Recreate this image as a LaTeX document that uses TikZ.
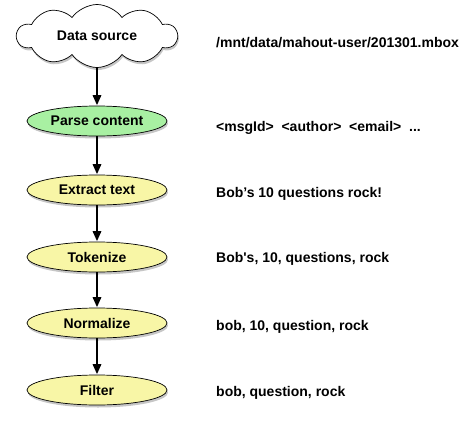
\documentclass[tikz,border=0pt]{standalone}
\usepackage{fontspec}
\setmainfont{Liberation Sans}
\newfontfamily\rawsans[Ligatures=TeXOff]{Liberation Sans}
\usetikzlibrary{shapes.symbols,shapes.geometric,shadows,arrows.meta}
\definecolor{stepyellow}{HTML}{F8F6A6}
\definecolor{stepgreen}{HTML}{A8F0A2}
\tikzset{
  stage/.style={ellipse, draw=black, line width=0.7pt, minimum width=140pt, minimum height=30pt,
    inner sep=0pt, font=\fontsize{14}{16}\selectfont\bfseries,
    drop shadow={shadow xshift=1pt, shadow yshift=-2.5pt, opacity=0.45}},
  ystage/.style={stage, fill=stepyellow},
  gstage/.style={stage, fill=stepgreen},
  srccloud/.style={cloud, cloud puffs=10, cloud puff arc=110, aspect=2.6, draw=black, line width=0.7pt,
    fill=white, minimum width=160pt, minimum height=63pt, inner sep=0pt,
    font=\fontsize{14}{16}\selectfont\bfseries,
    drop shadow={shadow xshift=1pt, shadow yshift=-2.5pt, opacity=0.45}},
  sample/.style={anchor=west, inner sep=0pt, font=\fontsize{14}{16}\selectfont\bfseries},
  flow/.style={line width=1.6pt, -{Triangle[length=10pt,width=8.5pt]}, shorten >=0.5pt}
}
\begin{document}
\begin{tikzpicture}[x=1pt,y=-1pt]
\useasboundingbox (0,0) rectangle (464,421);
\node[srccloud] (src) at (97,36) {Data source};
\node[gstage] (parse) at (97,121) {Parse content};
\node[ystage] (extract) at (97,190) {Extract text};
\node[ystage] (tok) at (97,257) {Tokenize};
\node[ystage] (norm) at (97,323) {Normalize};
\node[ystage] (filt) at (97,390) {Filter};
\draw[flow] (src) -- (parse);
\draw[flow] (parse) -- (extract);
\draw[flow] (extract) -- (tok);
\draw[flow] (tok) -- (norm);
\draw[flow] (norm) -- (filt);
\node[sample] (s1) at (216,43) {/mnt/data/mahout-user/201301.mbox};
\node[sample] (s2) at (216,128) {<msgId>\ \ <author>\ \ <email>\ \ ...};
\node[sample] (s3) at (216,194) {Bob’s 10 questions rock!};
\node[sample, font=\rawsans\fontsize{14}{16}\selectfont\bfseries] (s4) at (216,259) {Bob's, 10, questions, rock};
\node[sample] (s5) at (216,327) {bob, 10, question, rock};
\node[sample] (s6) at (216,393) {bob, question, rock};
\end{tikzpicture}
\end{document}
